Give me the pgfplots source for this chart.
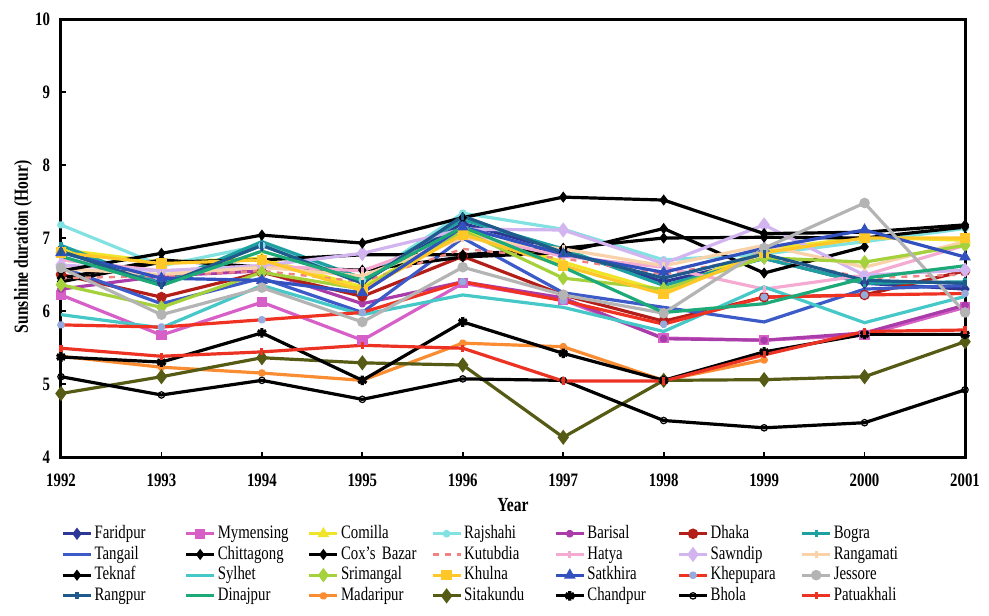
\documentclass[border=0pt]{standalone}
\usepackage{fontspec}
\setmainfont{Liberation Serif}[FakeStretch=0.78]
\usepackage{pgfplots}
\pgfplotsset{compat=1.18}

\definecolor{cFarid}{RGB}{45,55,150}
\definecolor{cMymen}{RGB}{214,96,200}
\definecolor{cComil}{RGB}{240,228,40}
\definecolor{cRajsh}{RGB}{130,225,225}
\definecolor{cBaris}{RGB}{170,60,170}
\definecolor{cDhaka}{RGB}{180,30,25}
\definecolor{cBogra}{RGB}{30,160,160}
\definecolor{cTanga}{RGB}{60,90,200}
\definecolor{cKutub}{RGB}{240,130,130}
\definecolor{cHatya}{RGB}{245,170,210}
\definecolor{cSawnd}{RGB}{210,180,240}
\definecolor{cRanga}{RGB}{250,210,170}
\definecolor{cSylhe}{RGB}{70,200,200}
\definecolor{cSrima}{RGB}{165,210,60}
\definecolor{cKhuln}{RGB}{255,200,40}
\definecolor{cSatkh}{RGB}{50,80,190}
\definecolor{cKhepu}{RGB}{240,50,35}
\definecolor{cKhepM}{RGB}{150,170,220}
\definecolor{cJesso}{RGB}{180,180,180}
\definecolor{cRangp}{RGB}{30,90,140}
\definecolor{cDinaj}{RGB}{30,170,120}
\definecolor{cMadar}{RGB}{250,140,50}
\definecolor{cSitak}{RGB}{85,90,20}
\definecolor{cPatua}{RGB}{235,50,35}

\begin{document}
\begin{tikzpicture}
\begin{axis}[
  name=ax,
  scale only axis,
  width=452pt, height=219pt,
  xmin=1992, xmax=2001, ymin=4, ymax=10,
  xtick={1992,1993,1994,1995,1996,1997,1998,1999,2000,2001},
  xticklabels={1992,1993,1994,1995,1996,1997,1998,1999,2000,2001},
  ytick={4,5,6,7,8,9,10},
  yticklabels={4,5,6,7,8,9,10},
  ticklabel style={font=\bfseries\fontsize{9.5}{10}\selectfont},
  xticklabel style={yshift=-5pt},
  yticklabel style={xshift=-2pt},
  xtick pos=bottom, ytick pos=left,
  tick align=inside,
  major tick length=2.5pt,
  tick style={black, line width=0.9pt},
  axis line style={black, line width=1.5pt},
  xlabel={\textbf{Year}},
  ylabel={\textbf{Sunshine duration (Hour)}},
  label style={font=\bfseries\fontsize{9.5}{10}\selectfont},
  every axis x label/.style={at={(rel axis cs:0.5,0)}, anchor=center, yshift=-24pt},
  every axis y label/.style={at={(rel axis cs:0,0.48)}, xshift=-19pt, rotate=90, anchor=center},
  every axis plot/.append style={line width=1.6pt, mark size=1.8pt, mark options={solid}},
  legend image code/.code={\draw[mark repeat=2,mark phase=2,#1] plot coordinates {(0pt,0pt) (7pt,0pt) (14pt,0pt)};},
  legend columns=7,
  legend cell align=left,
  legend style={at={(rel axis cs:0,0)}, anchor=north west, xshift=-3pt, yshift=-31pt,
    draw=none, fill=none, font=\fontsize{9.5}{10}\selectfont,
    nodes={inner sep=1pt, text height=6.5pt, text depth=1.85pt},
    /tikz/every even column/.append style={text width=44pt, align=left},
    column sep=0pt, row sep=0pt},
]
% Faridpur
\addplot[color=cFarid, mark=diamond*] coordinates {(1992,6.85)(1993,6.38)(1994,6.90)(1995,6.40)(1996,7.20)(1997,6.82)(1998,6.40)(1999,6.72)(2000,6.38)(2001,6.30)};
\addlegendentry{Faridpur}
% Mymensing
\addplot[color=cMymen, mark=square*] coordinates {(1992,6.22)(1993,5.67)(1994,6.12)(1995,5.60)(1996,6.38)(1997,6.15)(1998,5.63)(1999,5.60)(2000,5.67)(2001,6.05)};
\addlegendentry{Mymensing}
% Comilla
\addplot[color=cComil, mark=triangle*] coordinates {(1992,6.84)(1993,6.67)(1994,6.72)(1995,6.33)(1996,7.10)(1997,6.67)(1998,6.27)(1999,6.84)(2000,7.01)(2001,6.97)};
\addlegendentry{Comilla}
% Rajshahi
\addplot[color=cRajsh, mark=asterisk] coordinates {(1992,7.18)(1993,6.62)(1994,6.90)(1995,6.42)(1996,7.34)(1997,7.12)(1998,6.70)(1999,6.78)(2000,6.95)(2001,7.13)};
\addlegendentry{Rajshahi}
% Barisal
\addplot[color=cBaris, mark=asterisk] coordinates {(1992,6.30)(1993,6.48)(1994,6.55)(1995,6.10)(1996,6.40)(1997,6.18)(1998,5.62)(1999,5.60)(2000,5.70)(2001,6.08)};
\addlegendentry{Barisal}
% Dhaka
\addplot[color=cDhaka, mark=*] coordinates {(1992,6.50)(1993,6.19)(1994,6.53)(1995,6.20)(1996,6.75)(1997,6.22)(1998,5.86)(1999,6.19)(2000,6.22)(2001,6.55)};
\addlegendentry{Dhaka}
% Bogra
\addplot[color=cBogra, mark=|] coordinates {(1992,6.90)(1993,6.37)(1994,6.95)(1995,6.45)(1996,7.25)(1997,6.85)(1998,6.35)(1999,6.72)(2000,6.38)(2001,6.40)};
\addlegendentry{Bogra}
% Tangail
\addplot[color=cTanga] coordinates {(1992,6.60)(1993,6.10)(1994,6.45)(1995,5.98)(1996,7.00)(1997,6.25)(1998,6.05)(1999,5.85)(2000,6.30)(2001,6.35)};
\addlegendentry{Tangail}
% Chittagong
\addplot[color=black, mark=diamond*, mark size=1.5pt] coordinates {(1992,6.45)(1993,6.70)(1994,6.60)(1995,6.56)(1996,6.74)(1997,6.80)(1998,7.13)(1999,6.52)(2000,6.88)};
\addlegendentry{Chittagong}
% Cox's Bazar
\addplot[color=black, mark=diamond*, mark size=1.5pt] coordinates {(1992,6.40)(1993,6.67)(1994,6.70)(1995,6.77)(1996,6.77)(1997,6.86)(1998,7.00)(1999,7.01)(2000,7.00)(2001,7.15)};
\addlegendentry{Cox's Bazar}
% Kutubdia
\addplot[color=cKutub, dashed, line width=1.2pt] coordinates {(1992,6.45)(1993,6.48)(1994,6.55)(1995,6.40)(1996,6.85)(1997,6.72)(1998,6.50)(1999,6.75)(2000,6.45)(2001,6.50)};
\addlegendentry{Kutubdia}
% Hatya
\addplot[color=cHatya, mark=|] coordinates {(1992,6.70)(1993,6.55)(1994,6.62)(1995,6.55)(1996,7.05)(1997,6.75)(1998,6.60)(1999,6.30)(2000,6.49)(2001,6.90)};
\addlegendentry{Hatya}
% Sawndip
\addplot[color=cSawnd, mark=diamond*, mark size=2.5pt] coordinates {(1992,6.63)(1993,6.55)(1994,6.62)(1995,6.79)(1996,7.12)(1997,7.11)(1998,6.65)(1999,7.18)(2000,6.49)(2001,6.56)};
\addlegendentry{Sawndip}
% Rangamati
\addplot[color=cRanga, mark=|] coordinates {(1992,6.58)(1993,6.50)(1994,6.60)(1995,6.48)(1996,7.00)(1997,6.85)(1998,6.62)(1999,6.90)(2000,6.60)(2001,6.95)};
\addlegendentry{Rangamati}
% Teknaf
\addplot[color=black, mark=diamond*, mark size=1.5pt] coordinates {(1992,6.55)(1993,6.79)(1994,7.04)(1995,6.93)(1996,7.28)(1997,7.56)(1998,7.52)(1999,7.06)(2000,7.08)(2001,7.18)};
\addlegendentry{Teknaf}
% Sylhet
\addplot[color=cSylhe] coordinates {(1992,5.95)(1993,5.77)(1994,6.35)(1995,5.95)(1996,6.22)(1997,6.05)(1998,5.72)(1999,6.33)(2000,5.84)(2001,6.20)};
\addlegendentry{Sylhet}
% Srimangal
\addplot[color=cSrima, mark=diamond*, mark size=2.3pt] coordinates {(1992,6.36)(1993,6.05)(1994,6.53)(1995,6.30)(1996,7.10)(1997,6.45)(1998,6.30)(1999,6.73)(2000,6.67)(2001,6.90)};
\addlegendentry{Srimangal}
% Khulna
\addplot[color=cKhuln, mark=square*] coordinates {(1992,6.80)(1993,6.65)(1994,6.70)(1995,6.28)(1996,7.05)(1997,6.62)(1998,6.23)(1999,6.80)(2000,7.00)(2001,7.00)};
\addlegendentry{Khulna}
% Satkhira
\addplot[color=cSatkh, mark=triangle*] coordinates {(1992,6.80)(1993,6.45)(1994,6.42)(1995,6.25)(1996,7.15)(1997,6.78)(1998,6.53)(1999,6.86)(2000,7.11)(2001,6.74)};
\addlegendentry{Satkhira}
% Khepupara
\addplot[color=cKhepu, mark=asterisk, mark options={draw=cKhepM}] coordinates {(1992,5.81)(1993,5.78)(1994,5.88)(1995,5.98)(1996,6.40)(1997,6.14)(1998,5.82)(1999,6.19)(2000,6.22)(2001,6.24)};
\addlegendentry{Khepupara}
% Jessore
\addplot[color=cJesso, mark=*] coordinates {(1992,6.59)(1993,5.95)(1994,6.32)(1995,5.85)(1996,6.60)(1997,6.22)(1998,5.97)(1999,6.86)(2000,7.48)(2001,5.98)};
\addlegendentry{Jessore}
% Rangpur
\addplot[color=cRangp, mark=|] coordinates {(1992,6.82)(1993,6.35)(1994,6.90)(1995,6.38)(1996,7.30)(1997,6.80)(1998,6.45)(1999,6.78)(2000,6.42)(2001,6.38)};
\addlegendentry{Rangpur}
% Dinajpur
\addplot[color=cDinaj] coordinates {(1992,6.75)(1993,6.35)(1994,6.82)(1995,6.42)(1996,7.15)(1997,6.60)(1998,5.98)(1999,6.10)(2000,6.45)(2001,6.62)};
\addlegendentry{Dinajpur}
% Madaripur
\addplot[color=cMadar, mark=asterisk] coordinates {(1992,5.38)(1993,5.23)(1994,5.15)(1995,5.05)(1996,5.56)(1997,5.51)(1998,5.05)(1999,5.33)};
\addlegendentry{Madaripur}
% Sitakundu
\addplot[color=cSitak, mark=diamond*, mark size=2.5pt] coordinates {(1992,4.87)(1993,5.10)(1994,5.36)(1995,5.29)(1996,5.26)(1997,4.27)(1998,5.05)(1999,5.06)(2000,5.10)(2001,5.58)};
\addlegendentry{Sitakundu}
% Chandpur
\addplot[color=black, mark=asterisk, mark size=2.4pt] coordinates {(1992,5.37)(1993,5.30)(1994,5.70)(1995,5.05)(1996,5.85)(1997,5.42)(1998,5.05)(1999,5.44)(2000,5.68)(2001,5.68)};
\addlegendentry{Chandpur}
% Bhola
\addplot[color=black, mark=o, mark size=1.6pt, mark options={fill=white, line width=0.6pt}] coordinates {(1992,5.10)(1993,4.85)(1994,5.05)(1995,4.79)(1996,5.07)(1997,5.05)(1998,4.50)(1999,4.40)(2000,4.47)(2001,4.92)};
\addlegendentry{Bhola}
% Patuakhali
\addplot[color=cPatua, mark=|] coordinates {(1992,5.49)(1993,5.38)(1994,5.44)(1995,5.53)(1996,5.49)(1997,5.04)(1998,5.04)(1999,5.40)(2000,5.72)(2001,5.74)};
\addlegendentry{Patuakhali}
\end{axis}
% page margins around the plot box
\path (ax.south west) ++(-30.5pt,-79pt);
\path (ax.north east) ++(12pt,9.5pt);
\end{tikzpicture}
\end{document}
